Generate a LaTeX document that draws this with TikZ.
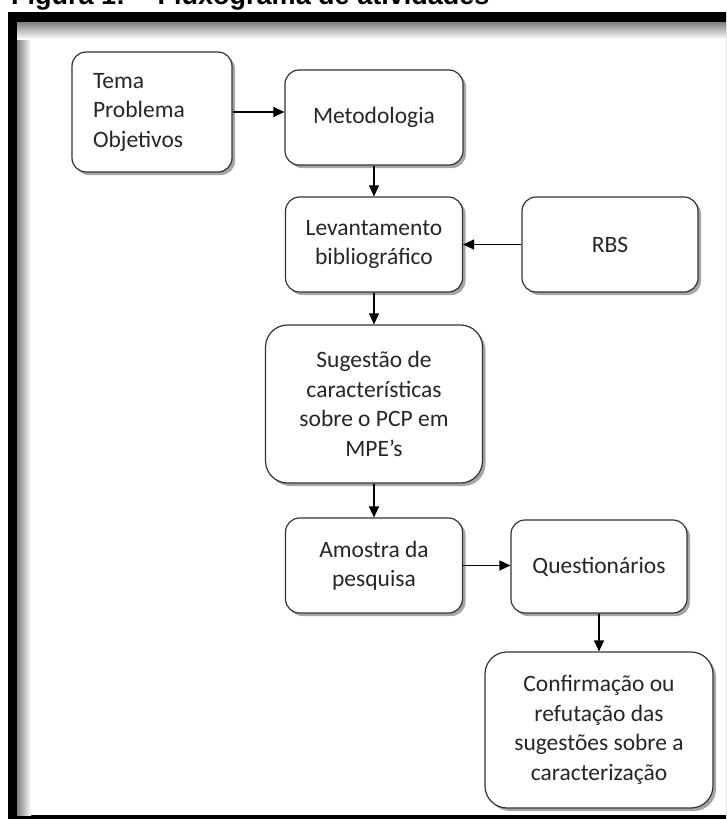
\documentclass[tikz,border=0pt]{standalone}
\usepackage{fontspec}
\setmainfont{Carlito}
\newfontfamily\titlefont{Liberation Sans}
\usetikzlibrary{arrows.meta,shadows}

\definecolor{boxline}{HTML}{333333}
\definecolor{boxtext}{HTML}{262626}

\tikzset{
  flowbox/.style={draw=boxline, line width=1.2pt, fill=white, rounded corners=14pt,
    align=center, text=boxtext, inner sep=4pt,
    font=\fontsize{23.5}{29.5}\selectfont,
    drop shadow={shadow xshift=3pt, shadow yshift=-3pt, opacity=0.35, fill=black}},
  bigbox/.style={flowbox, rounded corners=22pt},
  flowarrow/.style={draw=black, line width=1.3pt, -{Triangle[length=11pt,width=10pt]}}
}

\begin{document}
\begin{tikzpicture}[x=1pt, y=-1pt]
  \useasboundingbox (0,0) rectangle (726,819);
  \clip (0,0) rectangle (726,819);

  % caption, partly cut off by the top edge
  \node[anchor=base west, inner sep=0pt, font=\titlefont\bfseries\fontsize{27}{30}\selectfont]
    (caption) at (11,5) {Figura 1: – Fluxograma de atividades};

  % framed panel with an inner shadow along the top and left edges
  \fill[black] (8,12) rectangle (740,830);
  \fill[white] (17,22) rectangle (740,815);
  \shade[left color=black!50, right color=white] (17,22) rectangle (31,815);
  \shade[top color=black!50, bottom color=white] (17,22) rectangle (740,39);

  % process boxes
  \node[flowbox, minimum width=160pt, minimum height=120pt, text width=118pt,
        inner xsep=21pt, align=left] (tema) at (152,112) {Tema\\Problema\\Objetivos};
  \node[flowbox, minimum width=178pt, minimum height=95pt] (metod) at (374,117.5) {Metodologia};
  \node[flowbox, minimum width=177pt, minimum height=95pt] (lev) at (374,244.5) {Levantamento\\bibliográfico};
  \node[flowbox, minimum width=176pt, minimum height=95pt] (rbs) at (610,244.5) {RBS};
  \node[bigbox, minimum width=217pt, minimum height=158pt] (sug) at (374,404)
    {Sugestão de\\características\\sobre o PCP em\\MPE's};
  \node[flowbox, minimum width=177pt, minimum height=95pt] (amo) at (374,565.5) {Amostra da\\pesquisa};
  \node[flowbox, minimum width=176pt, minimum height=93pt] (que) at (599,566.5) {Questionários};
  \node[bigbox, minimum width=228pt, minimum height=156pt] (conf) at (599,730)
    {Confirmação ou\\refutação das\\sugestões sobre a\\caracterização};

  % connectors
  \draw[flowarrow] (tema.east) -- (tema.east -| metod.west);
  \draw[flowarrow] (metod.south) -- (lev.north);
  \draw[flowarrow] (rbs.west) -- (lev.east);
  \draw[flowarrow] (lev.south) -- (sug.north);
  \draw[flowarrow] (sug.south) -- (amo.north);
  \draw[flowarrow] (amo.east) -- (amo.east -| que.west);
  \draw[flowarrow] (que.south) -- (conf.north);
\end{tikzpicture}
\end{document}
